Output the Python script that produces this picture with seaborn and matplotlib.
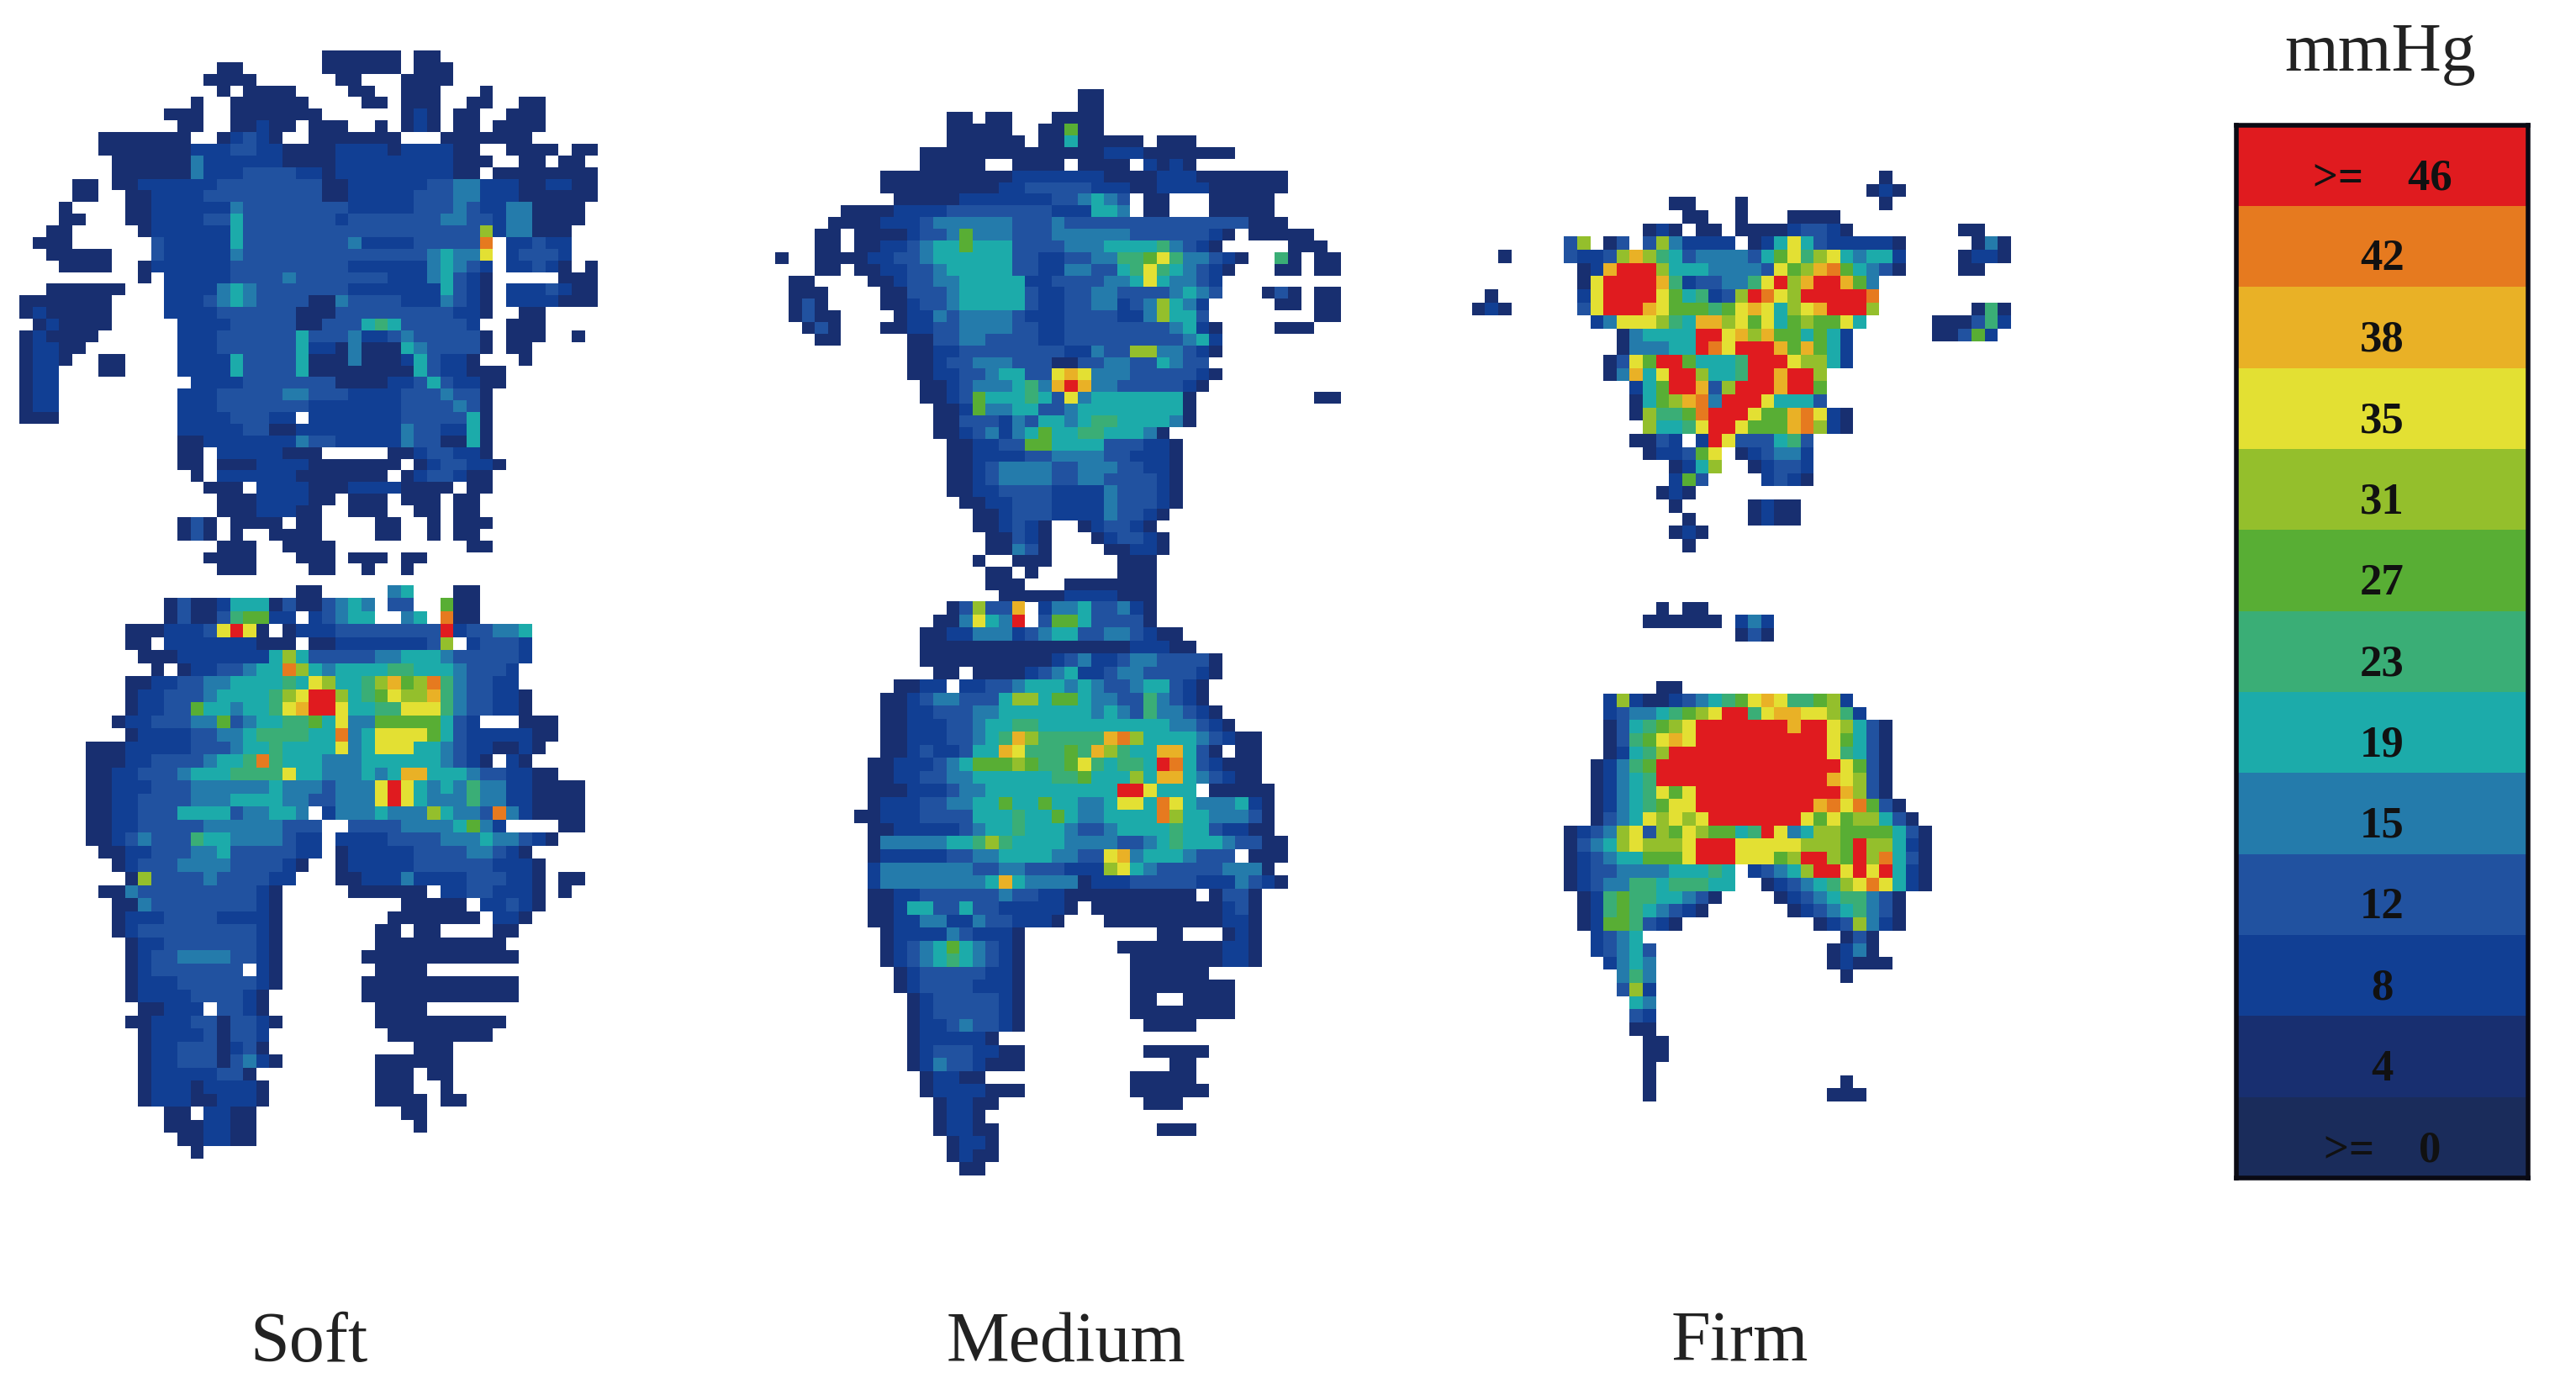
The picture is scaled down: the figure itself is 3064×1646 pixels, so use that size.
import numpy as np
import pandas as pd
import seaborn as sns
import matplotlib.pyplot as plt
from matplotlib.colors import ListedColormap, BoundaryNorm

# legend bands, low to high
levels = [0, 4, 8, 12, 15, 19, 23, 27, 31, 35, 38, 42, 46]
band_colors = ['#1a2c5b', '#182f70', '#113f94', '#2152a0', '#247bab', '#1cabaa', '#3aae76',
               '#58ae34', '#94bf2c', '#e3e033', '#e9b126', '#e67a1f', '#e01b1f']
legend_labels = ['>=    46', '42', '38', '35', '31', '27', '23', '19', '15', '12', '8', '4', '>=    0']
captions = ['Soft', 'Medium', 'Firm']

# one character per cell: . no contact, 1-9 a b c = band index (see codes below)
codes = dict(zip('0123456789abc', levels))

soft_top = [
    '.......................111111.11',
    '...............11......111111.111',
    '..............1111......11...1111',
    '...............1.1111....11..111...1',
    '.............1..111111....11.111..11..11',
    '...........111..1111111......121.11..111',
    '............11..11211.111..1.121.11.1111',
    '......1111111..12321..1111111...1111111',
    '......11111112223322111122221222211..1111.11',
    '.......11111142222221111222222222111..11.11',
    '.......1111114222333322122222222211.11111111',
    '....11.1122222233333333112222223344222112211',
    '....11..112222333333333112222233344222111111',
    '...1....11222222433333333222223334322441111',
    '...11...11222233533333332333333344332441111',
    '..11.....122222253333333333333333338244111',
    '.111......3222225333333334222233333b.22322',
    '..11111...32222243333333333333345449.23332',
    '...1111..122222233333333322222245432.22321.1',
    '.........1.2222233334333333322245321.....111',
    '..111111...2222454333333322222225321.2223211',
    '1111111....2223454333311433332224321.2222111',
    '1211111....2222333333111333333333221..11',
    '.121111.....22223333311333565333332..111',
    '121111......222333333533342234333331.111..1',
    '12211.......222333333522141115433331.11',
    '1221..11....22225333351114111253221...1',
    '122...11....2222533335111111115322111',
    '122..........222233333331111223532211',
    '122.........222333334433322223334331',
    '122.........222333333322222223333431',
    '111.........222233322.22222223333351',
    '............222223311222222224332251',
    '............112222222433222224331151',
    '............11.22222111.....11233221',
    '............11.11122221111111.1233221',
    '.............1.2222221111111.1233211',
    '..............111.222211122221111.11',
    '...............111222211.111.111.11',
    '...............11122211..111..11.11',
    '............131.1111.11....11..1.111',
    '............131.1..1111....11..1.11',
    '...............111..1111..........11',
    '..............1111...111.111.11',
    '...............111....11..1..1',
]

soft_bottom = [
    '.....................11.....45...11',
    '...........1311255513113454.33..711',
    '...........1311367722.23455..45.b11',
    '........11122239c91.122233333333c233445',
    '........11.2222222111.11222222238.23332',
    '.........111222222258533333445554333332',
    '..........1.12233455b85455556655543332',
    '........11223344555565985568a78b643322',
    '........12233345555689cc8567988a6433221',
    '........1223375545569acc955669996433221',
    '.......1223334473455667594477777532...111',
    '........1222233445666655b4599997532222211',
    '.....11122222333455655559459995543221121',
    '.....1112233334556b65554445555554321.21',
    '.....112233345556666955444545aa5554332211',
    '.....11222333444444544434449c95454644221111',
    '.....11223333444555544334449c95444644221111',
    '.....11223335555344554.2444544485443b421111',
    '.....112233333444444333..333344445742....11',
    '.....112343336554444322.22223333444544321',
    '......11223334453333322.122222333344321',
    '.......123334444333321..1222223333332221',
    '........1833334333322...1122242222333221.11',
    '......11433333333321.....111111.22332221.1',
    '.......1143333333321.........11111.22321',
    '.......1222333322221........1111111.221',
    '.......1233333333321.......11.11....11',
    '........122333333321.......1111111111',
    '........123344443321......111111111111',
    '........123333333.21.......1111',
    '........122233333321......111111111111',
    '........12222333321.......111111111111',
    '.........11222.3321........1111',
    '........112223313321.......1111111111',
    '.........1222231332.........11111111',
    '.........1223331231...........111',
    '.........12233313421.......111111',
    '.........122222331.........111.11',
    '.........1222122221........111..1',
    '.........1222112221........1111.11',
    '...........11.2211...........11',
    '...........1112211............1',
    '............112211',
    '.............1',
]

medium_top = [
    '.......................11',
    '.......................11',
    '.............11.11...1111',
    '.............11111..11711',
    '.............111111.11511111.111',
    '...........111111111111112221111111',
    '...........11111..1111.1111.2121',
    '........1111111111222222211112221111111',
    '........1111111112233333222112222111111',
    '.........111112222222334543.11...11111',
    '.....1111222233333333222554.11...11111',
    '....11112223444444333433333333333333111',
    '...11.11112334744433344444433333321.11111',
    '...11.1122345575553333444555564321.....111',
    '1..111122334555555332233446679644321..61.11',
    '...11.11223345555533224433569654321...11.11',
    '.11....112334455555223333445954432',
    '.111....11333455555322334433334543...131.11',
    '.131....1123345555532233442348542.....11.11',
    '.1311....122434444322233332248553........11',
    '..131...11223344443322333333334521....111',
    '...11.....113344333322333333333452',
    '..........112233333333224338844321',
    '..........11233444333113344335433',
    '..........112233455339a94443333321',
    '...........1123444564aca443333321',
    '...........112375556539455555551.........11',
    '............11274455334555555551',
    '............11333243554566555541',
    '............112342457556655541',
    '.............112233775555333221',
    '.............112222334444332221',
    '.............112344443344433221',
    '.............112344443344333321',
    '.............112233332222433321',
    '..............11223332222433321',
    '...............112333222243321',
    '...............112321..123321',
    '................11321...123321',
    '................11431....11221',
    '...............1..111.....111',
    '................11.1......111',
    '................111...1111111',
    '.................111112222111',
]

medium_bottom = [
    '.............13833a.244533421',
    '............114954c.377533331',
    '...........11224442345533443211',
    '...........111111111111111122211',
    '...........11111111112342234433331',
    '............11.1111234522344333321',
    '.........1122.2233455545433455321',
    '........1123443335885775443364321',
    '........11223334455555554543644321',
    '........112223345566555555555544321',
    '........1122233456a866666ab8555543211',
    '........112322355a966676a8655aa531.11',
    '.......1122234577787667965665cb532111',
    '.......1122334455555566755585aa543211',
    '.......1112223445555555555cc9555.11111',
    '.......1222334455755755445995b95444521',
    '......11222333355565575445555b85544431',
    '.......1122222345565554334555565532211',
    '.......14444455686555544443345655543311',
    '.......1222223344555544339a45554333.111',
    '.......2444444433443332228954333334441',
    '.......2444444445a544441222333332224321',
    '.......1122333333433221111111111.1331',
    '.......1125533533222221.1111111111231',
    '.......112244224332221...111111111221',
    '........12222432221..........11...121',
    '........12345754321.......11111111221',
    '........12345654321........1111111221',
    '.........1233333221........111111',
    '.........1233332221........11111111',
    '..........123333321........11..1111',
    '..........123333321........11111111',
    '..........122343321.........1111',
    '..........1222221',
    '..........123332211.........11111',
    '..........124332111...........11',
    '...........12211...........11111',
    '...........12222111........111111',
    '............12211...........111',
    '............1221',
    '............12211............111',
    '.............1221',
    '.............1211',
    '..............11',
]

firm_top = [
    '...............................1',
    '..............................121',
    '...............11...1..........1',
    '................11..1...1111',
    '.............121.11.111123321........11',
    '.......38.13.3842222.125953222221.....141',
    '..1....32238a86534444357968954552....1221',
    '........12accc855544443978ab75431....11',
    '........19cccca62334469c8acca74',
    '.1......29cccc9756238cb98cccccb',
    '121.....39ccca9777679a9589accc8.......161',
    '.........24999865aa89795787795.....111362',
    '...........145555cc9a8a775752......11372',
    '...........144455cb9ccca7a752',
    '..........1397cc75556ccc98852',
    '..........14a59cc8556ccacc8',
    '............257cca38cccacc7',
    '............1578ab4ccc95553',
    '............18667bccc977ab921',
    '.............85569cc9777ab821',
    '............1132.2c9333563',
    '.............122379.123442',
    '...............1258..12332',
    '...............273....2321',
    '..............121',
    '...............1.....1211',
    '................1....1211',
    '...............121',
    '................1',
]

firm_bottom = [
    '..............1.11',
    '.............111111.242',
    '....................131',
    '',
    '',
    '',
    '..............11',
    '..........282112345679a966782',
    '..........234456789cc69aa99862',
    '..........1356789cccccccacc98531',
    '..........13679a9cccccccccc97531',
    '..........12568cccccccccccc96531',
    '.........12467cccccccccccccc9731',
    '.........12456ccccccccccccca9831',
    '.........12456979ccccccccccca831',
    '.........12456799cccccccccab9b731',
    '.........134598989ccccccc979788531',
    '.......123489387987756c945887777531',
    '.......1345898889ccc999998887c88521',
    '.......1234557779ccc99978cc87c8b531',
    '.......1233444455565.23458cc9c9c521',
    '.......1234466566655..12345689b9521',
    '........12676655431....1234566431',
    '........1267654321......123456431',
    '........12776321..........1238421',
    '.........2345...............131',
    '.........23453.............1241',
    '..........2454.............12111',
    '...........464..............1',
    '...........382',
    '............54',
    '............32',
    '............11',
    '.............11',
    '.............11',
    '.............1',
    '.............1..............1',
    '.............1.............111',
]

W, H = 3064, 1646
SCALE = 3064 / 1568

sns.set_theme(style='white')
plt.rcParams['font.family'] = ['Liberation Serif', 'DejaVu Serif']

cmap = ListedColormap(band_colors)
norm = BoundaryNorm(levels + [50], cmap.N)


def add_axes(fig, x, y, w, h):
    return fig.add_axes([x * SCALE / W, 1 - (y + h) * SCALE / H, w * SCALE / W, h * SCALE / H])


def draw_block(fig, rows, x, y, cell_w, cell_h):
    width = max(len(r) for r in rows)
    grid = [[codes.get(ch, np.nan) for ch in r.ljust(width, '.')] for r in rows]
    df = pd.DataFrame(grid, dtype=float)
    ax = add_axes(fig, x, y, width * cell_w, len(rows) * cell_h)
    sns.heatmap(df, ax=ax, cmap=cmap, norm=norm, cbar=False,
                xticklabels=False, yticklabels=False, linewidths=0)
    ax.axis('off')
    return ax


fig = plt.figure(figsize=(W / 100, H / 100), dpi=100, facecolor='white')

draw_block(fig, soft_top, 12, 30.7, 8, 7.1)
draw_block(fig, soft_bottom, 12, 356, 8, 7.94)
draw_block(fig, medium_top, 472, 54, 8, 7.1)
draw_block(fig, medium_bottom, 472, 366, 8, 7.94)
draw_block(fig, firm_top, 896, 104, 8, 8)
draw_block(fig, firm_bottom, 896, 366.3, 8, 8)

# legend
legend_ax = add_axes(fig, 1361, 76, 178, 641)
legend_df = pd.DataFrame({'mmHg': levels[::-1]})
sns.heatmap(legend_df, ax=legend_ax, cmap=cmap, norm=norm, cbar=False,
            xticklabels=False, yticklabels=False, linewidths=0,
            annot=np.array(legend_labels).reshape(-1, 1), fmt='',
            annot_kws={'fontsize': 38, 'fontweight': 'bold', 'color': '#111111'})
# the numbers sit a little below the middle of each band
for t in legend_ax.texts:
    t.set_y(t.get_position()[1] + 0.16)
for spine in legend_ax.spines.values():
    spine.set_visible(True)
    spine.set_color('#0a0a14')
    spine.set_linewidth(4)

fig.text(1449 * SCALE / W, 1 - 33 * SCALE / H, 'mmHg', fontsize=59, color='#222222',
         ha='center', va='center')
for name, cx in zip(captions, [188, 649, 1059]):
    fig.text(cx * SCALE / W, 1 - 818 * SCALE / H, name, fontsize=60.5, color='#222222',
             ha='center', va='center')

fig.savefig('out.png', dpi=100, facecolor='white')
